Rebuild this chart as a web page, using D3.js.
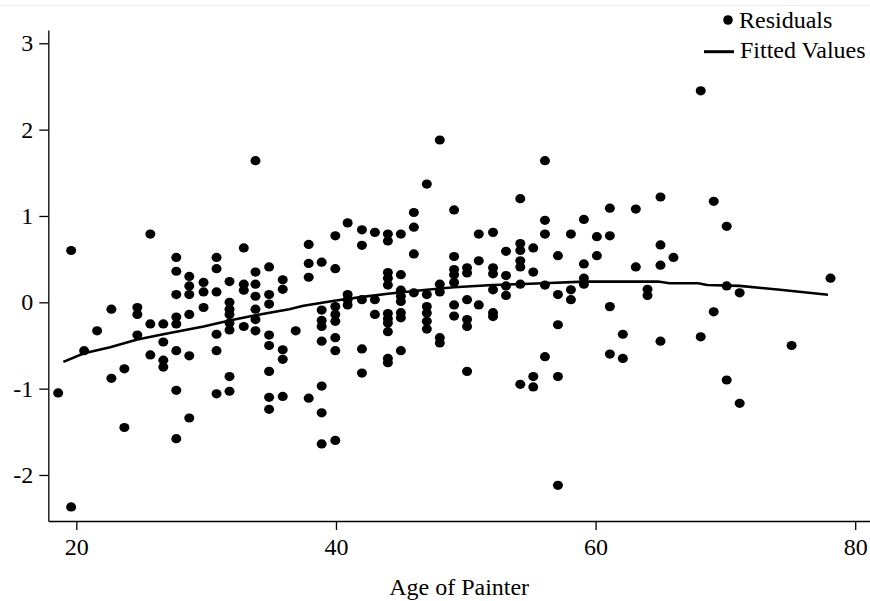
<!DOCTYPE html>
<html>
<head>
<meta charset="utf-8">
<script src="https://cdn.jsdelivr.net/npm/d3@7"></script>
<style>
  html, body { margin: 0; padding: 0; background: #fff; }
  svg { display: block; }
  text { font-family: "Liberation Serif", "Times New Roman", serif; fill: #000; }
</style>
</head>
<body>
<svg id="chart" width="870" height="601"></svg>
<script>
// ---- Data ----
const ageColumns = [18.6, 19.6, 20.6, 21.6, 22.7, 23.7, 24.7, 25.7, 26.7, 27.7,
  28.7, 29.8, 30.8, 31.8, 32.9, 33.8, 34.85, 35.9, 36.9, 37.9,
  38.9, 39.95, 40.9, 42.0, 43.0, 44.0, 45.0, 46.0, 47.0, 48.0,
  49.1, 50.1, 51.0, 52.1, 53.1, 54.2, 55.2, 56.1, 57.1, 58.1,
  59.1, 60.1, 61.1, 62.1, 63.1, 64.0, 65.0, 66.0, 68.1, 69.1,
  70.1, 71.1, 75.1, 78.1];

const residualsByAge = [
  [-1.05],
  [0.60, -2.37],
  [-0.56],
  [-0.33],
  [-0.08, -0.88],
  [-0.77, -1.45],
  [-0.06, -0.14, -0.38],
  [0.79, -0.25, -0.61],
  [-0.25, -0.46, -0.67, -0.75],
  [0.52, 0.36, 0.09, -0.17, -0.25, -0.56, -1.02, -1.58],
  [0.30, 0.19, 0.09, -0.14, -0.62, -1.34],
  [0.23, 0.12, -0.06],
  [0.52, 0.39, 0.12, -0.37, -0.56, -1.06],
  [0.24, 0.0, -0.08, -0.14, -0.24, -0.32, -0.86, -1.03],
  [0.63, 0.21, 0.14, -0.28],
  [1.64, 0.35, 0.21, 0.07, -0.08, -0.20, -0.33],
  [0.41, 0.09, -0.02, -0.38, -0.50, -0.80, -1.10, -1.24],
  [0.26, 0.15, -0.55, -0.66, -1.09],
  [-0.33],
  [0.67, 0.45, 0.29, -1.11],
  [0.465, -0.09, -0.21, -0.28, -0.45, -0.97, -1.28, -1.64],
  [0.77, 0.39, -0.05, -0.14, -0.22, -0.41, -0.56, -1.60],
  [0.92, 0.09, 0.03, -0.03],
  [0.84, 0.66, 0.03, -0.54, -0.82],
  [0.81, 0.03, -0.14],
  [0.79, 0.71, 0.345, 0.28, 0.20, -0.13, -0.19, -0.24, -0.34, -0.65, -0.70],
  [0.79, 0.32, 0.14, 0.07, 0.01, -0.12, -0.18, -0.56],
  [1.04, 0.87, 0.56, 0.11],
  [1.37, 0.09, -0.05, -0.125, -0.22, -0.31],
  [1.88, 0.21, 0.12, -0.41, -0.47],
  [1.07, 0.53, 0.38, 0.32, 0.23, -0.03, -0.16],
  [0.40, 0.34, 0.03, -0.20, -0.28, -0.80],
  [0.79, 0.48, -0.03],
  [0.81, 0.40, 0.33, 0.145, -0.12, -0.165],
  [0.59, 0.31, 0.19, 0.08],
  [1.20, 0.68, 0.60, 0.48, 0.41, 0.21, -0.95],
  [0.63, 0.35, -0.86, -0.98],
  [1.64, 0.95, 0.79, 0.20, -0.63],
  [0.54, 0.09, -0.26, -0.86, -2.12],
  [0.79, 0.145, 0.03],
  [0.96, 0.445, 0.28, 0.21],
  [0.76, 0.54],
  [1.09, 0.77, -0.05, -0.60],
  [-0.37, -0.65],
  [1.08, 0.41],
  [0.15, 0.08],
  [1.22, 0.665, 0.43, -0.45],
  [0.52],
  [2.45, -0.40],
  [1.17, -0.11],
  [0.88, 0.19, -0.90],
  [0.11, -1.17],
  [-0.50],
  [0.28]
];

const fittedAges = [19.0, 20.6, 22.6, 24.7, 26.7, 29.8, 31.8, 33.8, 36.4, 37.5,
  40.0, 41.9, 44.0, 47.0, 49.1, 52.1, 56.0, 59.1, 63.4, 64.8,
  65.7, 67.9, 68.6, 71.1, 74.2, 76.8, 77.9];
const fittedValues = [-0.69, -0.59, -0.52, -0.43, -0.37, -0.28, -0.21, -0.15, -0.08, -0.04,
  0.02, 0.06, 0.10, 0.145, 0.175, 0.20, 0.22, 0.24, 0.24, 0.24,
  0.22, 0.22, 0.20, 0.19, 0.145, 0.105, 0.087];

const xTicks = [20, 40, 60, 80];
const yTicks = [-2, -1, 0, 1, 2, 3];
const xTitle = "Age of Painter";
const legendLabels = ["Residuals", "Fitted Values"];

// ---- Build ----
const svg = d3.select("#chart");
const W = 870, H = 601;

const x = d3.scaleLinear().domain([17.84, 81.14]).range([48.3, 870]);
const y = d3.scaleLinear().domain([-2.533, 3.154]).range([521, 30]);

// faint top border line
svg.append("line")
  .attr("x1", 0).attr("x2", W).attr("y1", 5.5).attr("y2", 5.5)
  .attr("stroke", "#e9eeee").attr("stroke-width", 1);

const points = [];
ageColumns.forEach((a, i) => residualsByAge[i].forEach(v => points.push({ age: a, v })));

const fmt = d => String(d);

// axes
const xAxis = svg.append("g")
  .attr("transform", `translate(0,${y.range()[0]})`)
  .call(d3.axisBottom(x).tickValues(xTicks).tickFormat(fmt).tickSize(9).tickSizeOuter(0).tickPadding(8));
const yAxis = svg.append("g")
  .attr("transform", `translate(${x.range()[0]},0)`)
  .call(d3.axisLeft(y).tickValues(yTicks).tickFormat(fmt).tickSize(9).tickSizeOuter(0).tickPadding(6));

[xAxis, yAxis].forEach(g => {
  g.select(".domain").attr("stroke", "#000").attr("stroke-width", 1.3);
  g.selectAll(".tick line").attr("stroke", "#000").attr("stroke-width", 1.3);
  g.selectAll(".tick text")
    .attr("font-family", '"Liberation Serif", "Times New Roman", serif')
    .attr("font-size", 24).attr("fill", "#000");
});

svg.append("text")
  .attr("x", (x.range()[0] + x.range()[1]) / 2)
  .attr("y", 595)
  .attr("text-anchor", "middle")
  .attr("font-size", 24)
  .text(xTitle);

// fitted line
svg.append("path")
  .datum(fittedAges.map((a, i) => [a, fittedValues[i]]))
  .attr("fill", "none")
  .attr("stroke", "#000")
  .attr("stroke-width", 2.6)
  .attr("stroke-linejoin", "round")
  .attr("d", d3.line().x(d => x(d[0])).y(d => y(d[1])));

// residual points
svg.append("g").selectAll("ellipse")
  .data(points)
  .join("ellipse")
  .attr("cx", d => x(d.age))
  .attr("cy", d => y(d.v))
  .attr("rx", 5)
  .attr("ry", 4.6)
  .attr("fill", "#000");

// legend
const lg = svg.append("g");
lg.append("circle").attr("cx", 728).attr("cy", 20).attr("r", 4.8).attr("fill", "#000");
lg.append("text").attr("x", 739).attr("y", 27.5).attr("font-size", 24).text(legendLabels[0]);
lg.append("line").attr("x1", 704).attr("x2", 734).attr("y1", 51.7).attr("y2", 51.7)
  .attr("stroke", "#000").attr("stroke-width", 3);
lg.append("text").attr("x", 740).attr("y", 57.5).attr("font-size", 24).text(legendLabels[1]);
</script>
</body>
</html>
